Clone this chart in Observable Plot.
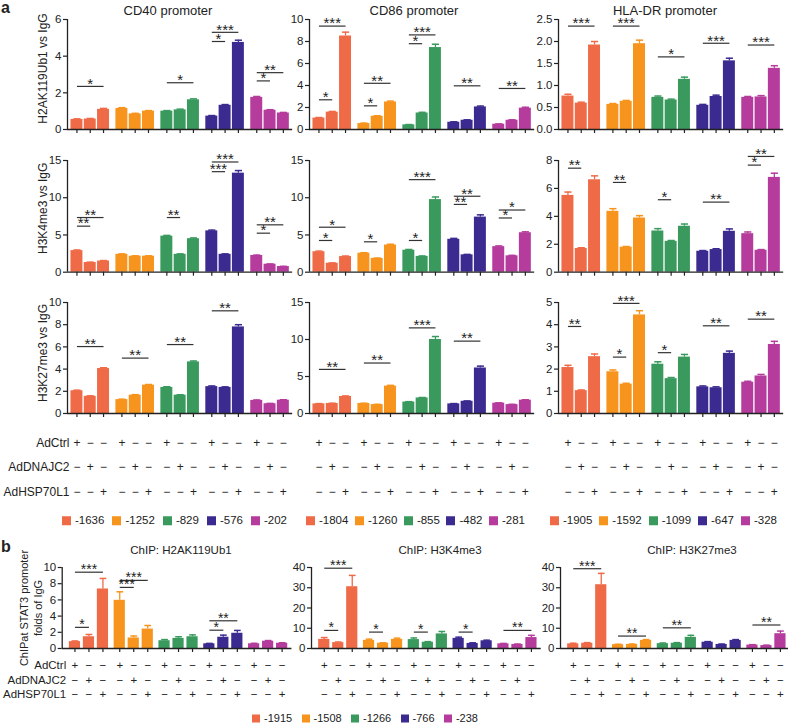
<!DOCTYPE html>
<html><head><meta charset="utf-8">
<script src="https://cdn.jsdelivr.net/npm/d3@7"></script>
<script src="https://cdn.jsdelivr.net/npm/@observablehq/plot@0.6"></script>
<style>
body{margin:0;background:#fff;}
#fig{position:relative;width:788px;height:723px;font-family:"Liberation Sans",Arial,sans-serif;color:#222;overflow:hidden;background:#fff}
#fig svg{position:absolute;overflow:visible;background:none}
.t{position:absolute;white-space:nowrap;line-height:1}
.lg{position:absolute;display:flex;justify-content:space-between;transform:translateY(-50%);line-height:1;white-space:nowrap}
.it{display:flex;align-items:center}
.it i{display:inline-block;margin-right:4px}
</style></head><body><div id="fig"></div>
<script>
// ---------- labels ----------
const colors = ["#EF6B48", "#F7941D", "#3A9A5E", "#3B2A90", "#B53C9C"];
const conditions = ["AdCtrl", "AdDNAJC2", "AdHSP70L1"];
const sitesCD40 = ["-1636", "-1252", "-829", "-576", "-202"];
const sitesCD86 = ["-1804", "-1260", "-855", "-482", "-281"];
const sitesHLA = ["-1905", "-1592", "-1099", "-647", "-328"];
const sitesSTAT3 = ["-1915", "-1508", "-1266", "-766", "-238"];
const promoters = ["CD40 promoter", "CD86 promoter", "HLA-DR promoter"];
const ylabelsA = ["H2AK119Ub1 vs IgG", "H3K4me3 vs IgG", "H3K27me3 vs IgG"];
const titlesB = ["ChIP: H2AK119Ub1", "ChIP: H3K4me3", "ChIP: H3K27me3"];
const ylabelB = "ChIPat STAT3 promoter\nfolds of IgG";

// ---------- tick values ----------
const ticks6 = [0, 2, 4, 6];
const ticks10 = [0, 2, 4, 6, 8, 10];
const ticks2_5 = [0, 0.5, 1, 1.5, 2, 2.5];
const ticks15 = [0, 5, 10, 15];
const ticks8 = [0, 2, 4, 6, 8];
const ticks5 = [0, 1, 2, 3, 4, 5];
const ticks40 = [0, 10, 20, 30, 40];

// ---------- panel a, row 1: H2AK119Ub1 ----------
const cd40_h2a = [0.55, 0.57, 1.1, 1.15, 0.85, 1.0, 1.0, 1.07, 1.62, 0.73, 1.32, 4.75, 1.75, 1.05, 0.9];
const cd40_h2a_err = [0.03, 0.03, 0.05, 0.04, 0.03, 0.03, 0.03, 0.04, 0.05, 0.03, 0.04, 0.12, 0.05, 0.03, 0.03];
const cd40_h2a_sig = [[0, 0, 2, 2.35, "*"], [2, 0, 2, 2.55, "*"], [3, 0, 1, 4.8, "*"], [3, 0, 2, 5.3, "***"], [4, 0, 1, 2.65, "*"], [4, 0, 2, 3.1, "**"]];

const cd86_h2a = [1.04, 1.58, 8.5, 0.54, 1.2, 2.5, 0.42, 1.5, 7.45, 0.66, 0.84, 2.05, 0.48, 0.84, 1.94];
const cd86_h2a_err = [0.05, 0.06, 0.35, 0.04, 0.05, 0.08, 0.03, 0.06, 0.3, 0.04, 0.04, 0.08, 0.03, 0.04, 0.08];
const cd86_h2a_sig = [[0, 0, 1, 2.7, "*"], [0, 0, 2, 9.4, "***"], [1, 0, 1, 2.15, "*"], [1, 0, 2, 4.2, "**"], [2, 0, 1, 7.8, "*"], [2, 0, 2, 8.6, "***"], [3, 0, 2, 3.97, "**"], [4, 0, 2, 3.73, "**"]];

const hla_h2a = [0.76, 0.6, 1.92, 0.57, 0.64, 1.95, 0.73, 0.67, 1.14, 0.55, 0.75, 1.56, 0.73, 0.74, 1.39];
const hla_h2a_err = [0.04, 0.02, 0.08, 0.02, 0.02, 0.08, 0.03, 0.02, 0.05, 0.02, 0.03, 0.06, 0.02, 0.03, 0.06];
const hla_h2a_sig = [[0, 0, 2, 2.35, "***"], [1, 0, 2, 2.35, "***"], [2, 0, 2, 1.65, "*"], [3, 0, 2, 1.96, "***"], [4, 0, 2, 1.92, "***"]];

// ---------- panel a, row 2: H3K4me3 ----------
const cd40_k4 = [2.9, 1.3, 1.5, 2.4, 2.15, 2.15, 4.84, 2.4, 4.5, 5.55, 2.4, 13.3, 2.24, 1.07, 0.76];
const cd40_k4_err = [0.08, 0.05, 0.06, 0.06, 0.05, 0.05, 0.1, 0.06, 0.1, 0.1, 0.06, 0.35, 0.06, 0.04, 0.03];
const cd40_k4_sig = [[0, 0, 1, 6.18, "**"], [0, 0, 2, 7.34, "**"], [2, 0, 1, 7.34, "**"], [3, 0, 1, 13.5, "***"], [3, 0, 2, 14.8, "***"], [4, 0, 1, 5.24, "*"], [4, 0, 2, 6.36, "**"]];

const cd86_k4 = [2.75, 1.2, 2.1, 2.55, 1.85, 3.65, 2.95, 2.12, 9.75, 4.42, 2.33, 7.4, 3.43, 2.2, 5.3];
const cd86_k4_err = [0.08, 0.05, 0.07, 0.07, 0.05, 0.1, 0.1, 0.06, 0.35, 0.12, 0.06, 0.3, 0.1, 0.06, 0.12];
const cd86_k4_sig = [[0, 0, 1, 4.26, "*"], [0, 0, 2, 6.04, "*"], [1, 0, 1, 4.08, "*"], [2, 0, 1, 4.26, "*"], [2, 0, 2, 12.43, "***"], [3, 0, 1, 9.1, "**"], [3, 0, 2, 10.2, "**"], [4, 0, 1, 7.28, "*"], [4, 0, 2, 8.35, "*"]];

const hla_k4 = [5.5, 1.7, 6.62, 4.36, 1.79, 3.88, 2.95, 2.21, 3.29, 1.5, 1.62, 2.93, 2.76, 1.57, 6.79];
const hla_k4_err = [0.24, 0.05, 0.28, 0.19, 0.05, 0.17, 0.17, 0.06, 0.16, 0.05, 0.06, 0.17, 0.12, 0.05, 0.3];
const hla_k4_sig = [[0, 0, 1, 7.45, "**"], [1, 0, 1, 6.43, "**"], [2, 0, 1, 5.19, "*"], [3, 0, 2, 5.02, "**"], [4, 0, 1, 7.67, "*"], [4, 0, 2, 8.29, "**"]];

// ---------- panel a, row 3: H3K27me3 ----------
const cd40_k27 = [2.05, 1.55, 4.05, 1.25, 1.65, 2.55, 2.35, 1.65, 4.65, 2.42, 2.35, 7.8, 1.18, 0.88, 1.2];
const cd40_k27_err = [0.05, 0.04, 0.07, 0.04, 0.05, 0.06, 0.06, 0.04, 0.08, 0.06, 0.05, 0.2, 0.04, 0.03, 0.04];
const cd40_k27_sig = [[0, 0, 2, 6.03, "**"], [1, 0, 2, 4.99, "**"], [2, 0, 2, 6.21, "**"], [3, 0, 2, 9.25, "**"]];

const cd86_k27 = [1.3, 1.35, 2.3, 1.35, 1.2, 3.7, 1.55, 2.1, 10.0, 1.3, 1.65, 6.15, 1.4, 1.2, 1.8];
const cd86_k27_err = [0.04, 0.04, 0.07, 0.04, 0.04, 0.1, 0.05, 0.06, 0.4, 0.04, 0.05, 0.25, 0.04, 0.04, 0.06];
const cd86_k27_sig = [[0, 0, 2, 5.96, "**"], [1, 0, 2, 6.82, "**"], [2, 0, 2, 11.57, "***"], [3, 0, 2, 9.78, "**"]];

const hla_k27 = [2.07, 1.03, 2.56, 1.88, 1.32, 4.44, 2.22, 1.57, 2.54, 1.2, 1.16, 2.71, 1.41, 1.69, 3.11];
const hla_k27_err = [0.1, 0.03, 0.12, 0.08, 0.04, 0.19, 0.11, 0.05, 0.12, 0.04, 0.04, 0.1, 0.04, 0.07, 0.14];
const hla_k27_sig = [[0, 0, 1, 3.92, "**"], [1, 0, 1, 2.54, "*"], [1, 0, 2, 4.96, "***"], [2, 0, 1, 2.74, "*"], [3, 0, 2, 3.95, "**"], [4, 0, 2, 4.25, "**"]];

// ---------- panel b: STAT3 promoter ----------
const stat3_h2a = [0.85, 1.45, 7.35, 5.95, 1.3, 2.4, 0.96, 1.25, 1.45, 0.58, 1.39, 1.88, 0.58, 0.9, 0.65];
const stat3_h2a_err = [0.08, 0.28, 1.3, 1.05, 0.24, 0.44, 0.14, 0.2, 0.23, 0.05, 0.26, 0.35, 0.06, 0.08, 0.06];
const stat3_h2a_sig = [[0, 0, 1, 2.61, "*"], [0, 0, 2, 9.42, "***"], [1, 0, 1, 7.54, "***"], [1, 0, 2, 8.41, "***"], [3, 0, 1, 2.26, "*"], [3, 0, 2, 3.42, "**"]];

const stat3_k4 = [4.5, 2.9, 30.5, 4.0, 2.6, 4.5, 4.4, 3.1, 7.2, 5.0, 2.5, 3.8, 2.3, 2.0, 5.4];
const stat3_k4_err = [0.9, 0.3, 5.6, 0.6, 0.2, 0.6, 0.8, 0.3, 1.2, 0.6, 0.3, 0.3, 0.2, 0.2, 1.1];
const stat3_k4_sig = [[0, 0, 1, 8.93, "*"], [0, 0, 2, 39.65, "***"], [1, 0, 1, 8.1, "*"], [2, 0, 1, 8.1, "*"], [3, 0, 1, 8.1, "*"], [4, 0, 2, 8.93, "**"]];

const stat3_k27 = [2.3, 2.6, 31.5, 1.9, 2.0, 4.0, 2.4, 2.6, 5.5, 3.1, 2.0, 4.0, 1.7, 1.45, 7.3];
const stat3_k27_err = [0.3, 0.3, 5.6, 0.2, 0.2, 0.4, 0.3, 0.3, 1.0, 0.3, 0.2, 0.4, 0.2, 0.2, 1.3];
const stat3_k27_sig = [[0, 0, 2, 39.4, "***"], [1, 0, 2, 6.14, "**"], [2, 0, 2, 10.2, "**"], [4, 0, 2, 11.6, "**"]];

// ---------- drawing ----------
const fig = document.getElementById("fig");
const FONT = '"Liberation Sans", Arial, sans-serif';

function addText(txt, x, y, {size = 12, weight = "normal", anchor = "middle"} = {}) {
  const d = document.createElement("div");
  d.className = "t";
  d.textContent = txt;
  d.style.fontSize = size + "px";
  d.style.fontWeight = weight;
  d.style.left = x + "px";
  d.style.top = y + "px";
  const tx = anchor === "middle" ? "-50%" : anchor === "end" ? "-100%" : "0";
  d.style.transform = `translate(${tx}, -50%)`;
  fig.appendChild(d);
}

function addLegend(sites, x0, x1, y, size, sq) {
  const d = document.createElement("div");
  d.className = "lg";
  Object.assign(d.style, {left: x0 + "px", width: (x1 - x0) + "px", top: y + "px", fontSize: size + "px"});
  sites.forEach((s, i) => {
    const it = document.createElement("span");
    it.className = "it";
    const b = document.createElement("i");
    b.style.background = colors[i];
    b.style.width = b.style.height = sq + "px";
    it.append(b, s);
    d.append(it);
  });
  fig.append(d);
}

function drawPanel(o) {
  const {vals, errs, sig, sites, ymax, yticks, fmt = (d) => d, svgLeft, axisX, top, bottom,
    k, gs, bw, off, ext, ylabel, ylabelDx = 25, ylabelDy = 0, ylabelLH = 1.2, ylabelSize = 12,
    rowDy = null, rowLabels = false, rowLabelDx = 2, tickSize = 11.5, pmSize = 12, starSize = 15} = o;
  const table = vals.map((v, i) => ({
    site: sites[Math.floor(i / 3)], g: Math.floor(i / 3), c: i % 3, v, e: errs[i],
    pos: Math.floor(i / 3) * gs + (i % 3)
  }));
  const P = (g, c) => g * gs + c;
  const sigRows = sig.map(([g, a, b, y, t]) => ({x1: P(g, a), x2: P(g, b), y, t}));
  const dmin = -off, dmax = 4 * gs + 2 + ext;
  const ML = axisX - svgLeft, MR = 10, MT = 24, MB = 100;
  const plotW = k * (dmax - dmin), plotH = bottom - top;
  const cw = bw * 0.3;
  const marks = [
    Plot.rectY(table, {x1: (d) => d.pos - bw / 2, x2: (d) => d.pos + bw / 2, y1: 0, y2: "v", fill: "site"}),
    Plot.ruleX(table, {x: "pos", y1: "v", y2: (d) => d.v + d.e, stroke: "site", strokeWidth: 1.3}),
    Plot.link(table, {x1: (d) => d.pos - cw, x2: (d) => d.pos + cw, y1: (d) => d.v + d.e, y2: (d) => d.v + d.e, stroke: "site", strokeWidth: 1.5}),
    Plot.ruleY([0], {stroke: "#222", strokeWidth: 1.3}),
    Plot.ruleX([dmin], {stroke: "#222", strokeWidth: 1.3}),
    Plot.axisY(yticks, {tickSize: 4, tickPadding: 2, tickFormat: fmt, label: null, fontSize: tickSize, strokeWidth: 1.2}),
    Plot.axisX(table.map((d) => d.pos), {tickSize: 4, tickFormat: () => "", label: null, strokeWidth: 1.2}),
    Plot.link(sigRows, {x1: "x1", x2: "x2", y1: "y", y2: "y", stroke: "#333", strokeWidth: 1.2}),
    Plot.text(sigRows, {x: (d) => (d.x1 + d.x2) / 2, y: "y", text: "t", fontSize: starSize, dy: -2.5, lineAnchor: "middle", fill: "#222"})
  ];
  if (ylabel) {
    marks.push(Plot.text([ylabel], {frameAnchor: "left", text: (d) => d, rotate: -90, dx: -ylabelDx, dy: ylabelDy,
      fontSize: ylabelSize, lineHeight: ylabelLH, textAnchor: "middle", lineAnchor: "middle", fill: "#222"}));
  }
  if (rowDy) {
    conditions.forEach((cond, r) => {
      marks.push(Plot.text(table, {x: "pos", frameAnchor: "bottom", dy: rowDy[r], text: (d) => (d.c === r ? "+" : "\u2212"),
        fontSize: pmSize, lineAnchor: "middle", fill: "#222"}));
      if (rowLabels) {
        marks.push(Plot.text([cond], {frameAnchor: "bottom-left", dx: rowLabelDx, dy: rowDy[r], text: (d) => d,
          textAnchor: "end", lineAnchor: "middle", fontSize: pmSize, fill: "#222"}));
      }
    });
  }
  const svg = Plot.plot({
    width: ML + plotW + MR,
    height: MT + plotH + MB,
    marginLeft: ML, marginRight: MR, marginTop: MT, marginBottom: MB,
    style: {background: "transparent", overflow: "visible", fontFamily: FONT, fontSize: "11.5px", color: "#222"},
    x: {type: "linear", domain: [dmin, dmax]},
    y: {type: "linear", domain: [0, ymax]},
    color: {domain: sites, range: colors},
    marks
  });
  svg.style.position = "absolute";
  svg.style.left = svgLeft + "px";
  svg.style.top = (top - MT) + "px";
  fig.appendChild(svg);
}

// layout of panel a
const aCols = [{svgLeft: 0, axisX: 67}, {svgLeft: 259, axisX: 309}, {svgLeft: 508, axisX: 558}];
const aRows = [{top: 19.3, bottom: 129.3}, {top: 160, bottom: 271.7}, {top: 301.7, bottom: 412.7}];
const aGeom = {k: 13.3, gs: 3.38, bw: 0.9, off: 0.71, ext: 0.7};
const aRowDy = [30, 54, 79];

const panelsA = [
  [{vals: cd40_h2a, errs: cd40_h2a_err, sig: cd40_h2a_sig, sites: sitesCD40, ymax: 6, yticks: ticks6},
   {vals: cd86_h2a, errs: cd86_h2a_err, sig: cd86_h2a_sig, sites: sitesCD86, ymax: 10, yticks: ticks10},
   {vals: hla_h2a, errs: hla_h2a_err, sig: hla_h2a_sig, sites: sitesHLA, ymax: 2.5, yticks: ticks2_5, fmt: (d) => d.toFixed(1)}],
  [{vals: cd40_k4, errs: cd40_k4_err, sig: cd40_k4_sig, sites: sitesCD40, ymax: 15, yticks: ticks15},
   {vals: cd86_k4, errs: cd86_k4_err, sig: cd86_k4_sig, sites: sitesCD86, ymax: 15, yticks: ticks15},
   {vals: hla_k4, errs: hla_k4_err, sig: hla_k4_sig, sites: sitesHLA, ymax: 8, yticks: ticks8}],
  [{vals: cd40_k27, errs: cd40_k27_err, sig: cd40_k27_sig, sites: sitesCD40, ymax: 10, yticks: ticks10},
   {vals: cd86_k27, errs: cd86_k27_err, sig: cd86_k27_sig, sites: sitesCD86, ymax: 15, yticks: ticks15},
   {vals: hla_k27, errs: hla_k27_err, sig: hla_k27_sig, sites: sitesHLA, ymax: 5, yticks: ticks5}]
];
const ylabelDyA = [-6, -8, -5];

panelsA.forEach((row, r) => row.forEach((p, c) => {
  drawPanel({...p, ...aCols[c], ...aRows[r], ...aGeom,
    ylabel: c === 0 ? ylabelsA[r] : null, ylabelDx: 25, ylabelDy: ylabelDyA[r],
    rowDy: r === 2 ? aRowDy : null, rowLabels: r === 2 && c === 0, rowLabelDx: 2});
}));

// layout of panel b
const bCols = [{svgLeft: 0, axisX: 61.7}, {svgLeft: 261, axisX: 311}, {svgLeft: 510, axisX: 560}];
const bRow = {top: 566.5, bottom: 647.5};
const bGeom = {k: 14, gs: 3.2, bw: 0.8, off: 0.91, ext: 0.7};
const panelsB = [
  {vals: stat3_h2a, errs: stat3_h2a_err, sig: stat3_h2a_sig, sites: sitesSTAT3, ymax: 10, yticks: ticks10},
  {vals: stat3_k4, errs: stat3_k4_err, sig: stat3_k4_sig, sites: sitesSTAT3, ymax: 40, yticks: ticks40},
  {vals: stat3_k27, errs: stat3_k27_err, sig: stat3_k27_sig, sites: sitesSTAT3, ymax: 40, yticks: ticks40}
];
panelsB.forEach((p, c) => {
  drawPanel({...p, ...bCols[c], ...bRow, ...bGeom,
    ylabel: c === 0 ? ylabelB : null, ylabelDx: 31.7, ylabelDy: 0, ylabelLH: 1.25, ylabelSize: 11,
    rowDy: [17, 32, 46], rowLabels: c === 0, rowLabelDx: 4, pmSize: 11.5, starSize: 14});
});

// titles, panel letters, legends
addText("a", 1, 8, {size: 16, weight: "bold", anchor: "start"});
addText("b", 1, 547, {size: 16, weight: "bold", anchor: "start"});
[168, 414, 665].forEach((x, i) => addText(promoters[i], x, 10, {size: 13}));
[181, 440, 692].forEach((x, i) => addText(titlesB[i], x, 551, {size: 11.5}));
addLegend(sitesCD40, 62, 287, 521, 11.5, 9);
addLegend(sitesCD86, 306, 525, 521, 11.5, 9);
addLegend(sitesHLA, 550, 777, 521, 11.5, 9);
addLegend(sitesSTAT3, 252, 478, 718, 11, 8);
</script></body></html>
